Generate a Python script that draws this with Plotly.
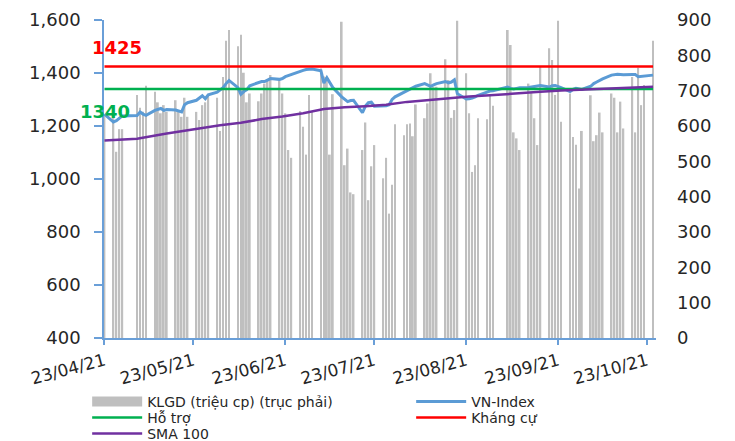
import pandas as pd
import plotly.graph_objects as go

# ---------------- data ----------------
holidays = ["2021-04-30", "2021-05-03", "2021-09-02", "2021-09-03"]
trading_days = [d for d in pd.bdate_range("2021-04-23", "2021-10-25")
                if d.strftime("%Y-%m-%d") not in holidays]

# KLGD (million shares) - right axis
volume = [
    631, 632, 527, 591, 591,
    688, 652, 640, 714,
    697, 667, 636, 659, 640,
    673, 640, 626, 680, 626,
    640, 617, 659, 667, 688,
    680,
    586, 739, 841, 872,
    826, 858, 751, 667, 692,
    670, 692, 720, 730, 744,
    732, 692, 636, 532, 510,
    642, 598, 519,
    688, 640,
    763, 740, 739, 519, 690,
    895, 489, 536, 412, 407,
    532, 610, 390, 486, 546,
    452, 510, 352, 434, 605,
    574, 605, 607, 571, 661,
    622, 664, 749, 711, 711,
    789, 730, 623, 645, 898,
    749, 636, 470, 489, 622,
    619, 687, 657,
    872, 829, 582, 565, 532,
    720, 697, 622, 546, 768,
    820, 787, 688, 898, 612,
    692, 569, 547, 423, 586,
    687, 557, 574, 638, 582,
    692, 680, 582, 669, 593,
    739, 582, 765, 659, 716,
    841,
]

# VN-Index - left axis
vnindex = [
    1245, 1215, 1220, 1228, 1238,
    1240, 1253, 1245, 1240,
    1259, 1262, 1266, 1259, 1262,
    1260, 1255, 1253, 1280, 1288,
    1297, 1305, 1314, 1303, 1318,
    1328,
    1335, 1345, 1360, 1372,
    1345, 1320, 1330, 1337, 1352,
    1363, 1368, 1368, 1372, 1379,
    1376, 1379, 1386, 1390, 1395,
    1408, 1410, 1413,
    1414, 1415,
    1408, 1362, 1382, 1365, 1345,
    1310, 1300, 1292, 1296, 1297,
    1250, 1275, 1288, 1290, 1275,
    1276, 1276, 1280, 1300, 1310,
    1328, 1335, 1338, 1344, 1350,
    1360, 1355, 1350, 1355, 1360,
    1368, 1363, 1366, 1374, 1322,
    1302, 1303, 1305, 1310, 1316,
    1328, 1332, 1333,
    1347, 1342, 1340, 1342, 1344,
    1345, 1347, 1348, 1350, 1353,
    1347, 1352, 1353, 1350, 1345,
    1330, 1338, 1342, 1340, 1338,
    1350, 1360, 1366, 1372, 1378,
    1392, 1394, 1395, 1394, 1393,
    1394, 1394, 1386, 1387, 1388,
    1392,
]

# SMA 100 read at weekly points
sma_dates = ["2021-04-23", "2021-05-04", "2021-05-14", "2021-05-24", "2021-06-01",
             "2021-06-08", "2021-06-15", "2021-06-22", "2021-06-29", "2021-07-06",
             "2021-07-13", "2021-07-20", "2021-07-27", "2021-08-03", "2021-08-10",
             "2021-08-17", "2021-08-24", "2021-08-31", "2021-09-10", "2021-09-17",
             "2021-09-24", "2021-10-01", "2021-10-08", "2021-10-15", "2021-10-25"]
sma_values = [1145, 1152, 1172, 1190, 1203,
              1212, 1226, 1236, 1248, 1264,
              1271, 1275, 1280, 1291, 1298,
              1305, 1311, 1316, 1322, 1329,
              1334, 1337, 1341, 1345, 1348]

support_level = 1340
resistance_level = 1425

tick_dates = ["2021-04-23", "2021-05-23", "2021-06-23", "2021-07-23",
              "2021-08-23", "2021-09-23", "2021-10-23"]
tick_labels = ["23/04/21", "23/05/21", "23/06/21", "23/07/21",
               "23/08/21", "23/09/21", "23/10/21"]

# ---------------- figure ----------------
AXIS_BLUE = "#6A9FD8"
TXT = "#262626"
FONT = "DejaVu Sans"

fig = go.Figure()

fig.add_trace(go.Bar(
    x=trading_days, y=volume, yaxis="y",
    marker=dict(color="#BFBFBF", line=dict(width=0)),
    width=0.6 * 86400000, showlegend=False, name="KLGD (triệu cp) (trục phải)",
))
# legend entry for the bars (wide swatch)
fig.add_trace(go.Scatter(
    x=[None], y=[None], yaxis="y2", mode="lines", legend="legend",
    line=dict(color="#BFBFBF", width=10), name="KLGD (triệu cp) (trục phải)",
))
fig.add_trace(go.Scatter(
    x=trading_days, y=vnindex, yaxis="y2", mode="lines", legend="legend",
    line=dict(color="#5B9BD5", width=3), name="VN-Index",
))
fig.add_trace(go.Scatter(
    x=[trading_days[0], trading_days[-1]], y=[support_level, support_level],
    yaxis="y2", mode="lines", legend="legend2",
    line=dict(color="#00B050", width=2.5), name="Hỗ trợ",
))
fig.add_trace(go.Scatter(
    x=[trading_days[0], trading_days[-1]], y=[resistance_level, resistance_level],
    yaxis="y2", mode="lines", legend="legend2",
    line=dict(color="#FF0000", width=2.5), name="Kháng cự",
))
fig.add_trace(go.Scatter(
    x=sma_dates, y=sma_values, yaxis="y2", mode="lines", legend="legend3",
    line=dict(color="#7030A0", width=2.5), name="SMA 100",
))

W, H = 727, 433          # page body has an 8px margin
ML, MT, PW, PH = 96, 12, 552, 318
legend_common = dict(
    orientation="h", x=-0.0305, xanchor="left", yanchor="middle",
    entrywidth=259, entrywidthmode="pixels", itemwidth=50,
    font=dict(family=FONT, size=14, color=TXT),
    bgcolor="rgba(0,0,0,0)", tracegroupgap=0,
)

def row_y(fig_y):
    return (MT + PH - fig_y) / PH

fig.update_layout(
    width=W, height=H,
    margin=dict(l=ML, r=W - ML - PW, t=MT, b=H - MT - PH, autoexpand=False),
    paper_bgcolor="white", plot_bgcolor="white",
    font=dict(family=FONT, color=TXT),
    showlegend=True,
    xaxis=dict(
        type="date", range=["2021-04-22 20:00", "2021-10-26 00:00"],
        tickvals=tick_dates, ticktext=tick_labels, tickangle=-15,
        ticks="outside", ticklen=5, tickcolor=AXIS_BLUE, tickwidth=1.5,
        showline=True, linecolor=AXIS_BLUE, linewidth=1.5,
        showgrid=False, zeroline=False, automargin=False,
        tickfont=dict(family=FONT, size=17, color=TXT),
    ),
    yaxis=dict(
        side="right", range=[0, 900], dtick=100,
        showgrid=False, showline=False, zeroline=False, ticks="",
        tickfont=dict(family=FONT, size=18, color=TXT),
        ticklabelstandoff=20, automargin=False,
    ),
    yaxis2=dict(
        overlaying="y", side="left", range=[400, 1600], dtick=200, tickformat=",",
        showgrid=False, zeroline=False,
        showline=True, linecolor=AXIS_BLUE, linewidth=1.5,
        ticks="outside", ticklen=8, tickcolor=AXIS_BLUE, tickwidth=1.5,
        tickfont=dict(family=FONT, size=18, color=TXT),
        ticklabelstandoff=10, automargin=False,
    ),
    legend=dict(legend_common, y=row_y(394)),
    legend2=dict(legend_common, y=row_y(410)),
    legend3=dict(legend_common, y=row_y(426)),
    annotations=[
        dict(text="<b>1425</b>", xref="paper", yref="y2", x=0.0236, y=1495,
             showarrow=False, xanchor="center", yanchor="middle",
             font=dict(family=FONT, size=18, color="#FF0000")),
        dict(text="<b>1340</b>", xref="paper", yref="y2", x=0.0018, y=1256,
             showarrow=False, xanchor="center", yanchor="middle",
             font=dict(family=FONT, size=18, color="#00B050")),
    ],
)

fig.write_html("out.html")
